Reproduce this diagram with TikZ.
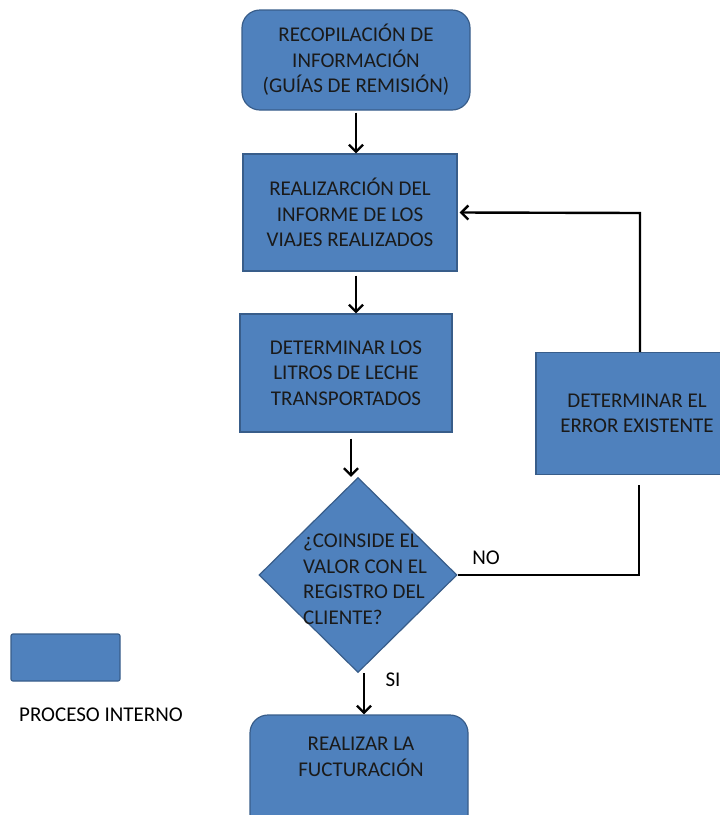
\documentclass[tikz,border=0pt]{standalone}
\usepackage{fontspec}
\setmainfont{Carlito}
\usetikzlibrary{arrows.meta,shapes.geometric}
\definecolor{boxfill}{HTML}{4F81BD}
\definecolor{boxline}{HTML}{385D8A}
\definecolor{ink}{HTML}{1A1A1A}

\begin{document}
\begin{tikzpicture}[x=1pt,y=-1pt,
  txt/.style={text=ink, font=\fontsize{21}{25.5}\selectfont, inner sep=0pt},
  proc/.style={draw=boxline, line width=1.2pt, fill=boxfill, inner sep=0pt,
               txt, align=center},
  term/.style={proc, rounded corners=18pt},
  link/.style={line width=2.4pt, draw=black},
  arr/.style={link, -{Straight Barb[length=7pt,width=14pt,line width=2.4pt]}},
]
\useasboundingbox (0,0) rectangle (720,815);
\clip (0,0) rectangle (720,815);

% process steps
\node[term, minimum width=228pt, minimum height=100pt] (n1) at (356,60)
  {RECOPILACIÓN DE\\INFORMACIÓN\\(GUÍAS DE REMISIÓN)};
\node[proc, minimum width=214pt, minimum height=117pt] (n2) at (350,212.5)
  {REALIZARCIÓN DEL\\INFORME DE LOS\\VIAJES REALIZADOS};
\node[proc, minimum width=212pt, minimum height=118pt] (n3) at (346,373)
  {DETERMINAR LOS\\LITROS DE LECHE\\TRANSPORTADOS};
\node[diamond, draw=boxline, line width=1.2pt, fill=boxfill, inner sep=0pt,
      minimum width=198pt, minimum height=195pt] (dec) at (358,575) {};
\node[txt, align=left, anchor=west] (dect) at (303,579)
  {¿COINSIDE EL\\VALOR CON EL\\REGISTRO DEL\\CLIENTE?};
\node[proc, minimum width=202pt, minimum height=122pt] (err) at (637,413.5)
  {DETERMINAR EL\\ERROR EXISTENTE};
\node[term, minimum width=218pt, minimum height=130pt] (n5) at (359,780) {};
\node[txt, align=center] (n5t) at (361,757) {REALIZAR LA\\FUCTURACIÓN};

% legend
\node[proc, rounded corners=2pt, minimum width=109pt, minimum height=47pt] (leg) at (65.5,657.5) {};
\node[txt, text=black] (legt) at (101,715) {PROCESO INTERNO};

% branch labels
\node[txt, text=black] (no) at (486,558) {NO};
\node[txt, text=black] (si) at (393,680) {SI};

% connectors
\coordinate (fbtop) at (640,213);
\coordinate (nocorner) at (639,575);
\coordinate (noend) at (639,485);

\draw[arr] ([yshift=-2pt]n1.south) -- (n1.south |- n2.north);
\draw[arr] ([xshift=6pt,yshift=-4pt]n2.south) -- ([xshift=6pt]n2.south |- n3.north);
\draw[arr] ([xshift=5pt,yshift=-6pt]n3.south) -- ([xshift=5pt]n3.south |- dec.north);
\draw[arr] ([xshift=6pt]dec.south) -- ([xshift=6pt]dec.south |- n5.north);
\draw[link] (dec.east) -- (nocorner) -- (noend);
\draw[arr] ([xshift=3pt]err.north) -- (fbtop) -- ([xshift=2pt]n2.east);
\end{tikzpicture}
\end{document}
